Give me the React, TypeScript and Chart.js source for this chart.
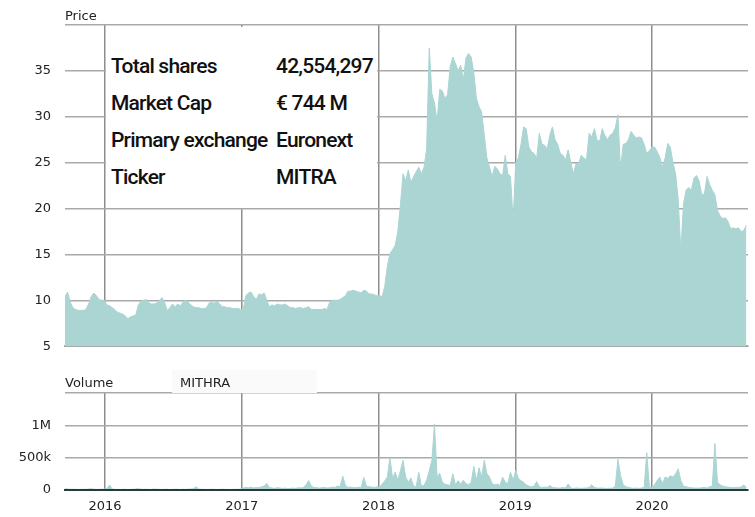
import React, { useEffect, useRef } from 'react';
import { Chart, registerables } from 'chart.js';

Chart.register(...registerables);

// Axis span in fractional years (mid-Sept 2015 .. mid-Sept 2020), weekly samples
const START_YEAR = 2015.707;
const END_YEAR = 2020.702;
const WEEK = 7 / 365.25;

const yearTicks = [2016, 2017, 2018, 2019, 2020];

// Weekly closing price (EUR)
const priceValues = [
  10.4, 10.9, 9.8, 9.2, 9.0, 8.9, 8.9, 8.9, 9.0, 9.6,
  10.4, 10.8, 10.5, 10.1, 10.0, 10.0, 9.5, 9.4, 9.2, 9.0,
  8.7, 8.6, 8.5, 8.3, 8.0, 8.2, 8.3, 8.4, 9.5, 9.9,
  10.0, 10.1, 9.7, 9.6, 9.6, 9.7, 10.0, 10.3, 9.8, 8.9,
  9.2, 9.6, 9.3, 9.6, 9.4, 9.8, 10.0, 9.8, 9.5, 9.3,
  9.2, 9.2, 9.1, 9.1, 9.2, 9.7, 9.8, 9.7, 9.9, 9.6,
  9.3, 9.3, 9.2, 9.2, 9.1, 9.1, 9.1, 9.0, 9.0, 10.5,
  10.8, 10.9, 10.4, 10.1, 10.7, 10.6, 10.8, 10.0, 9.3, 9.5,
  9.4, 9.6, 9.5, 9.5, 9.6, 9.4, 9.2, 9.2, 9.1, 9.2,
  9.2, 9.1, 9.2, 9.3, 9.0, 9.0, 9.0, 9.0, 9.0, 9.1,
  9.0, 9.8, 10.0, 10.0, 10.0, 10.1, 10.3, 10.5, 11.0, 11.0,
  11.1, 11.0, 10.9, 10.8, 11.1, 11.0, 10.7, 10.7, 10.6, 10.5,
  10.5, 10.4, 11.5, 13.7, 15.1, 15.5, 16.0, 17.5, 20.4, 23.8,
  23.0, 24.2, 22.8, 23.5, 24.0, 24.5, 23.8, 24.5, 26.5, 37.5,
  32.5, 31.5, 29.5, 33.0, 32.8, 32.0, 32.4, 35.5, 36.5, 35.8,
  35.0, 35.6, 34.0, 36.4, 36.9, 36.5, 34.8, 32.0, 31.1, 30.5,
  28.0, 25.5, 24.5, 23.5, 24.6, 24.3, 23.8, 23.6, 25.8, 23.8,
  23.5, 18.7, 25.0, 25.5, 27.0, 28.9, 28.7, 26.7, 26.2, 26.0,
  25.5, 28.2, 27.0, 26.9, 26.5, 28.0, 28.9, 27.5, 27.0, 26.0,
  25.8, 25.3, 26.4, 25.0, 23.8, 24.9, 24.9, 25.8, 25.5, 25.3,
  28.2, 27.8, 28.7, 27.5, 27.3, 28.7, 28.0, 27.5, 28.0, 28.2,
  28.8, 30.2, 24.2, 27.0, 27.1, 27.5, 28.4, 28.0, 27.7, 27.8,
  27.7, 27.0, 26.0, 26.3, 26.7, 26.7, 26.2, 25.6, 24.5, 25.5,
  27.1, 26.7, 25.0, 23.8, 21.0, 15.3, 20.5, 22.0, 22.3, 22.0,
  23.3, 23.6, 23.0, 21.5, 21.6, 23.5, 22.6, 22.0, 21.5, 19.8,
  19.2, 18.9, 19.0, 18.6, 17.8, 17.9, 17.8, 17.9, 17.5, 17.6, 18.2,
];

// Weekly traded volume, in thousands of shares
const volumeThousands = [
  20, 15, 12, 10, 12, 8, 10, 12, 10, 15,
  18, 12, 10, 10, 12, 15, 20, 77, 15, 10,
  10, 8, 12, 10, 8, 10, 12, 15, 20, 12,
  10, 12, 8, 10, 15, 12, 10, 8, 12, 10,
  8, 10, 12, 10, 8, 12, 10, 12, 15, 20,
  50, 15, 10, 12, 8, 10, 12, 10, 8, 10,
  12, 10, 10, 8, 10, 12, 10, 15, 30, 40,
  35, 45, 30, 40, 35, 50, 60, 100, 40, 30,
  25, 35, 30, 25, 30, 20, 25, 30, 25, 35,
  30, 40, 80, 145, 60, 40, 35, 30, 35, 40,
  30, 35, 45, 40, 60, 50, 215, 70, 40, 45,
  40, 35, 45, 40, 195, 60, 50, 45, 40, 50,
  45, 90, 140, 200, 500, 180, 275, 150, 300, 460,
  200, 120, 187, 60, 50, 275, 60, 70, 150, 300,
  460, 1020, 200, 260, 120, 90, 80, 70, 250, 80,
  145, 90, 150, 100, 80, 120, 364, 150, 343, 200,
  460, 250, 200, 100, 80, 90, 70, 200, 120, 100,
  275, 150, 300, 180, 145, 120, 80, 60, 50, 60,
  130, 50, 40, 45, 40, 70, 40, 35, 30, 30,
  40, 30, 94, 30, 25, 30, 30, 25, 30, 30,
  40, 80, 40, 30, 30, 30, 25, 25, 25, 30,
  60, 475, 225, 80, 50, 40, 30, 25, 30, 25,
  30, 40, 577, 50, 40, 80, 150, 200, 100, 200,
  180, 220, 200, 250, 328, 150, 60, 50, 40, 35,
  30, 30, 30, 35, 40, 30, 50, 60, 718, 120,
  80, 60, 50, 45, 40, 35, 40, 40, 45, 78, 40,
];

const priceAxisMin = 5;
const priceAxisMax = 40;
const priceStep = 5;
const volumeAxisMax = 1500000;
const volumeStep = 500000;
const volumeTickLabels: Record<number, string> = { 0: '0', 500000: '500k', 1000000: '1M' };

const infoLabels = ['Total shares', 'Market Cap', 'Primary exchange', 'Ticker'];
const infoValues = ['42,554,297', '€ 744 M', 'Euronext', 'MITRA'];

const FILL = '#aad5d3';
const V_GRID = '#8e8e8e';
const H_GRID = '#a9a9a9';
const TEXT = '#222222';
const TICK_FONT = { family: '"DejaVu Sans", Verdana, sans-serif', size: 13 };

export default function App() {
  const priceRef = useRef<HTMLCanvasElement | null>(null);
  const volRef = useRef<HTMLCanvasElement | null>(null);

  useEffect(() => {
    const priceData = priceValues.map((v, i) => ({ x: START_YEAR + i * WEEK, y: v }));
    const volData = volumeThousands.map((v, i) => ({ x: START_YEAR + i * WEEK, y: v * 1000 }));

    const priceChart = new Chart(priceRef.current as HTMLCanvasElement, {
      type: 'line',
      data: {
        datasets: [
          {
            data: priceData,
            fill: 'start',
            backgroundColor: FILL,
            borderColor: FILL,
            borderWidth: 1,
            pointRadius: 0,
            tension: 0,
          },
        ],
      },
      options: {
        responsive: false,
        animation: false,
        events: [],
        layout: { padding: { top: 25, right: 7, left: 0, bottom: 0 } },
        plugins: { legend: { display: false }, tooltip: { enabled: false } },
        scales: {
          x: {
            type: 'linear',
            min: START_YEAR,
            max: END_YEAR,
            afterBuildTicks: (s: any) => {
              s.ticks = yearTicks.map((v) => ({ value: v }));
            },
            ticks: { display: false },
            grid: { color: V_GRID, lineWidth: 1.5, drawTicks: false },
            border: { display: true, color: '#a9a9a9', width: 2 },
            afterFit: (s: any) => {
              s.height = 6;
            },
          },
          y: {
            min: priceAxisMin,
            max: priceAxisMax,
            ticks: {
              stepSize: priceStep,
              padding: 14,
              color: TEXT,
              font: TICK_FONT,
              callback: (v: any) => (v === priceAxisMax ? '' : String(v)),
            },
            grid: { color: H_GRID, lineWidth: 1.5, drawTicks: false },
            border: { display: false },
            afterFit: (s: any) => {
              s.width = 65;
            },
          },
        },
      },
    } as any);

    const volChart = new Chart(volRef.current as HTMLCanvasElement, {
      type: 'line',
      data: {
        datasets: [
          {
            data: volData,
            fill: 'start',
            backgroundColor: FILL,
            borderColor: FILL,
            borderWidth: 1,
            pointRadius: 0,
            tension: 0,
          },
        ],
      },
      options: {
        responsive: false,
        animation: false,
        events: [],
        layout: { padding: { top: 33, right: 7, left: 0, bottom: 0 } },
        plugins: { legend: { display: false }, tooltip: { enabled: false } },
        scales: {
          x: {
            type: 'linear',
            min: START_YEAR,
            max: END_YEAR,
            afterBuildTicks: (s: any) => {
              s.ticks = yearTicks.map((v) => ({ value: v }));
            },
            ticks: {
              padding: 9,
              color: TEXT,
              font: TICK_FONT,
              maxRotation: 0,
              autoSkip: false,
              callback: (v: any) => String(v),
            },
            grid: { color: V_GRID, lineWidth: 1.5, drawTicks: false },
            border: { display: true, color: '#2a3a3c', width: 2, z: 2 },
            afterFit: (s: any) => {
              s.height = 27;
            },
          },
          y: {
            min: 0,
            max: volumeAxisMax,
            ticks: {
              stepSize: volumeStep,
              padding: 14,
              color: TEXT,
              font: TICK_FONT,
              callback: (v: any) => volumeTickLabels[v] ?? '',
            },
            grid: {
              color: (c: any) => (c.tick && c.tick.value === 0 ? '#2a3a3c' : H_GRID),
              lineWidth: 1.5,
              drawTicks: false,
            },
            border: { display: false },
            afterFit: (s: any) => {
              s.width = 65;
            },
          },
        },
      },
    } as any);

    return () => {
      priceChart.destroy();
      volChart.destroy();
    };
  }, []);

  const labelStyle: React.CSSProperties = {
    position: 'absolute',
    fontFamily: '"DejaVu Sans", Verdana, sans-serif',
    fontSize: 13,
    lineHeight: '15px',
    color: TEXT,
    whiteSpace: 'nowrap',
  };
  const infoStyle: React.CSSProperties = {
    position: 'absolute',
    fontFamily: 'Roboto, "Noto Sans", sans-serif',
    fontWeight: 500,
    fontSize: 21,
    lineHeight: '24px',
    letterSpacing: '-0.8px',
    color: '#111',
    whiteSpace: 'nowrap',
  };
  const rowTops = [54, 91, 128, 165];

  return (
    <div style={{ position: 'fixed', left: 0, top: 0, width: 755, height: 517, background: '#fff', overflow: 'hidden' }}>
      <canvas ref={priceRef} width={755} height={368} style={{ position: 'absolute', left: 0, top: 0, width: 755, height: 368 }} />
      <canvas ref={volRef} width={755} height={157} style={{ position: 'absolute', left: 0, top: 360, width: 755, height: 157 }} />
      <div style={{ ...labelStyle, left: 65, top: 7.5 }}>Price</div>
      <div style={{ position: 'absolute', left: 106, top: 27, width: 271, height: 181, background: '#fff' }} />
      {infoLabels.map((t, i) => (
        <div key={'l' + i} style={{ ...infoStyle, left: 111, top: rowTops[i] }}>{t}</div>
      ))}
      {infoValues.map((t, i) => (
        <div key={'v' + i} style={{ ...infoStyle, left: 276, top: rowTops[i] }}>{t}</div>
      ))}
      <div style={{ position: 'absolute', left: 172, top: 370, width: 145, height: 23, background: '#fafafa' }} />
      <div style={{ ...labelStyle, left: 65, top: 375 }}>Volume</div>
      <div style={{ ...labelStyle, left: 180, top: 375 }}>MITHRA</div>
    </div>
  );
}
